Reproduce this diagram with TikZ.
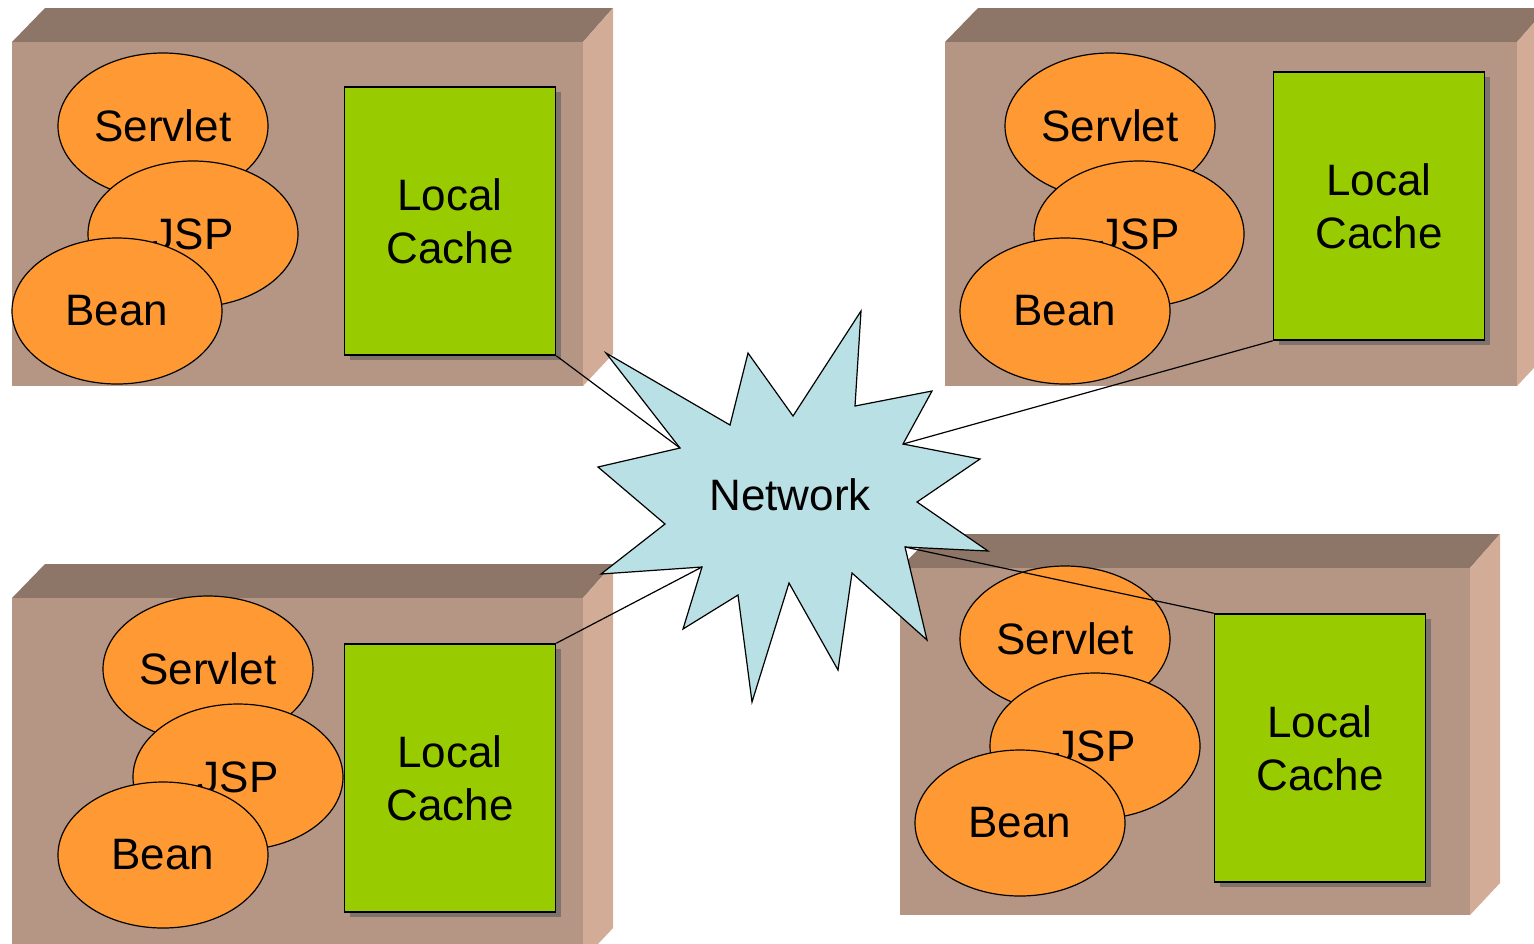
\documentclass[tikz,border=0pt]{standalone}
\usepackage{fontspec}
\setmainfont{Liberation Sans}
\usetikzlibrary{shapes.geometric,shadows}
\definecolor{frontc}{RGB}{181,150,132}
\definecolor{topc}{RGB}{141,118,104}
\definecolor{sidec}{RGB}{211,172,151}
\definecolor{beanc}{RGB}{255,153,51}
\definecolor{cachec}{RGB}{153,204,0}
\definecolor{starc}{RGB}{185,224,228}
\definecolor{shadc}{RGB}{125,115,108}
\newcommand\crate[4]{%
  \fill[topc] (#1,#2) -- ({#1+33},{#2-34}) -- ({#3+30},{#2-34}) -- (#3,#2) -- cycle;
  \fill[sidec] (#3,#2) -- ({#3+30},{#2-34}) -- ({#3+30},{#4-32}) -- (#3,#4) -- cycle;
  \fill[frontc] (#1,#2) rectangle (#3,#4);
}
\tikzset{
  comp/.style={ellipse, draw=black, line width=0.6pt, fill=beanc, minimum width=105pt,
    minimum height=73pt, inner sep=0pt, font=\fontsize{22}{26}\selectfont},
  cache/.style={rectangle, draw=black, line width=0.8pt, fill=cachec, minimum width=105.5pt,
    minimum height=134pt, align=center, font=\fontsize{22}{26.5}\selectfont,
    general shadow={fill=shadc, shadow xshift=2.5pt, shadow yshift=-2.5pt}},
  link/.style={draw=black, line width=0.6pt},
  starshape/.style={draw=black, line width=0.6pt, fill=starc, line join=miter},
}
\begin{document}
\begin{tikzpicture}[x=0.5pt,y=-0.5pt]
\useasboundingbox (0,0) rectangle (1534,943);
\clip (0,0) rectangle (1534,943);
% crates
\crate{12}{42}{583}{386}
\crate{945}{42}{1517}{386}
\crate{12}{598}{583}{960}
\crate{900}{568}{1470}{915}
% top-left
\node[comp] (svTL) at (163,126) {Servlet};
\node[comp] (jsTL) at (193,234) {JSP};
\node[comp] (bnTL) at (117,311) {Bean};
\node[cache] (cTL) at (450,221) {Local\\Cache};
% top-right
\node[comp] (svTR) at (1110,126) {Servlet};
\node[comp] (jsTR) at (1139,234) {JSP};
\node[comp] (bnTR) at (1065,311) {Bean};
\node[cache] (cTR) at (1379,206) {Local\\Cache};
% bottom-left
\node[comp] (svBL) at (208,669) {Servlet};
\node[comp] (jsBL) at (238,777) {JSP};
\node[comp] (bnBL) at (163,855) {Bean};
\node[cache] (cBL) at (450,778) {Local\\Cache};
% bottom-right
\node[comp] (svBR) at (1065,639) {Servlet};
\node[comp] (jsBR) at (1095,746) {JSP};
\node[comp] (bnBR) at (1020,823) {Bean};
\node[cache] (cBR) at (1320,748) {Local\\Cache};
% network star
\coordinate (iTR) at (903,444);
\coordinate (iBR) at (905,547);
\coordinate (iBL) at (702,567);
\coordinate (iTL) at (680,448);
\draw[starshape] (861,311) -- (855,406) -- (932,391) -- (iTR) -- (980,459) -- (917,502)
  -- (988,551) -- (iBR) -- (927,640) -- (852,573) -- (838,670) -- (789,583)
  -- (752,702) -- (738,595) -- (683,629) -- (iBL) -- (601,574) -- (665,524)
  -- (598,467) -- (iTL) -- (606,353) -- (730,425) -- (748,353) -- (793,416) -- cycle;
\node[font=\fontsize{22}{26}\selectfont] (net) at (790,495) {Network};
% connectors
\draw[link] (cTL.south east) -- (iTL);
\draw[link] (cTR.south west) -- (iTR);
\draw[link] (cBL.north east) -- (iBL);
\draw[link] (iBR) -- (cBR.north west);
\end{tikzpicture}
\end{document}
